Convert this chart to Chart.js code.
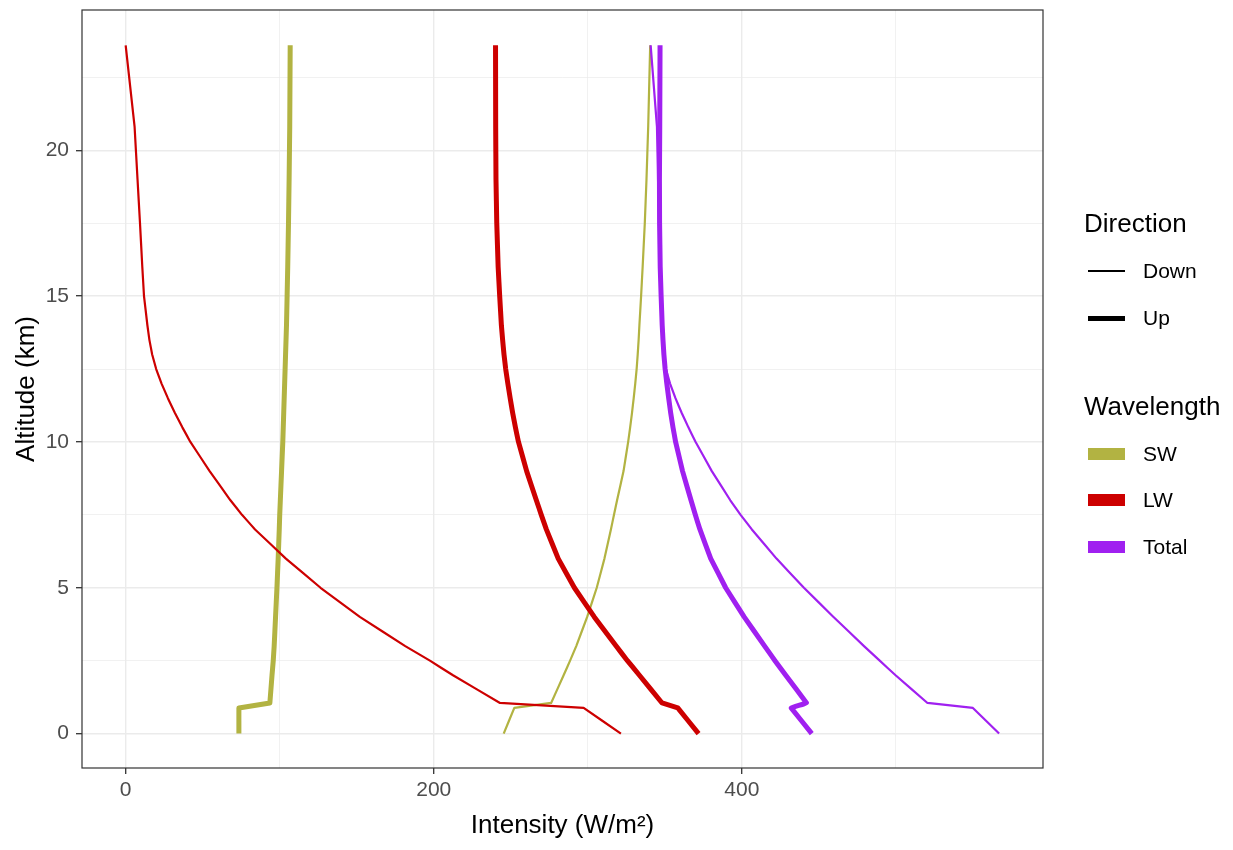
<!DOCTYPE html>
<html>
<head>
<meta charset="utf-8">
<title>Radiative flux profile</title>
<script src="https://cdn.jsdelivr.net/npm/chart.js"></script>
<style>
    body { margin: 0; background: #ffffff; font-family: "Liberation Sans", Arial, sans-serif; }
    #wrap { position: relative; width: 1233px; height: 850px; }
    #legend { position: absolute; left: 0; top: 0; }
    .leg-title { position: absolute; left: 1084px; font-size: 26px; height: 30px; line-height: 30px; color: #000; white-space: nowrap; }
    .leg-label { position: absolute; left: 1143px; font-size: 21px; height: 26px; line-height: 26px; color: #000; white-space: nowrap; }
    .leg-key { position: absolute; left: 1088px; width: 37px; }
</style>
</head>
<body>
<div id="wrap">
    <canvas id="fluxChart" width="1233" height="850"></canvas>
    <div id="legend"></div>
</div>
<script>
// altitude levels (km), shared by every profile
const altitude = [0, 0.88, 1.05, 2, 2.5, 3, 4, 5, 6, 7, 7.5, 8, 9, 10, 10.5, 11, 11.5, 12, 12.5, 13, 13.5, 14, 15, 16, 17.5, 19, 20.8, 23.6];

// intensities in W/m2
const swDown = [245.4, 252.3, 276.2, 284.3, 288.5, 292.5, 299.6, 305.8, 310.8, 315, 317, 319, 323.2, 326.2, 327.5, 328.7, 329.8, 330.8, 331.7, 332.4, 333, 333.5, 334.6, 335.6, 337, 338.1, 339.2, 340.5];
const swUp = [73.5, 73.5, 93.6, 95, 95.8, 96.4, 97.3, 98.2, 99, 99.7, 100, 100.4, 101.2, 102, 102.3, 102.6, 102.9, 103.2, 103.5, 103.8, 104.1, 104.4, 104.8, 105.2, 105.7, 106.1, 106.5, 106.8];
const lwDown = [321.5, 297.3, 243, 212.5, 197.5, 181.5, 152, 126.5, 104, 84, 75.5, 68, 54.5, 42, 36.8, 31.9, 27.4, 23.3, 19.8, 17.2, 15.4, 14.1, 11.9, 10.8, 9.3, 7.7, 5.8, 0];
const lwUp = [371.9, 358.4, 348.2, 333.5, 325.7, 318.4, 304.2, 291.3, 280.8, 273.1, 269.8, 266.6, 260.3, 255, 253, 251.2, 249.6, 248.1, 246.7, 245.6, 244.7, 243.9, 242.8, 241.8, 240.9, 240.4, 240.2, 240.1];
const totalDown = [567, 550, 520.5, 499.8, 489.5, 479.3, 459.5, 440.3, 422.5, 406.5, 399.2, 392.5, 380.5, 370, 365.3, 360.9, 356.9, 353.4, 350.7, 349.5, 348.8, 348.3, 347.4, 346.6, 346.2, 345.6, 344.9, 340.8];
const totalUp = [445.4, 432, 442, 428.5, 421.5, 414.8, 401.5, 389.5, 379.8, 372.8, 369.8, 367, 361.5, 357, 355.3, 353.8, 352.5, 351.3, 350.2, 349.4, 348.8, 348.3, 347.6, 347, 346.6, 346.5, 346.7, 346.9];

const wavelengths = ['SW', 'LW', 'Total'];
const directions = ['Down', 'Up'];

// axis ticks (minor ones carry grid lines only)
const xTicks = [0, 100, 200, 300, 400, 500];
const xLabels = [0, 200, 400];
const yTicks = [0, 2.5, 5, 7.5, 10, 12.5, 15, 17.5, 20, 22.5];
const yLabels = [0, 5, 10, 15, 20];

const colors = { SW: '#B2B342', LW: '#CD0000', Total: '#A020F0' };
const widths = { Down: 2.2, Up: 5 };

const series = {
    SW: { Down: swDown, Up: swUp },
    LW: { Down: lwDown, Up: lwUp },
    Total: { Down: totalDown, Up: totalUp }
};

function profile(values) {
    return altitude.map((a, i) => ({ x: values[i], y: a }));
}

const datasets = [];
wavelengths.forEach((w, wi) => {
    directions.forEach(d => {
        datasets.push({
            label: w + ' ' + d,
            data: profile(series[w][d]),
            showLine: true,
            borderColor: colors[w],
            backgroundColor: colors[w],
            borderWidth: widths[d],
            borderJoinStyle: 'round',
            borderCapStyle: 'butt',
            pointRadius: 0,
            pointHoverRadius: 0,
            // a tiny tension keeps Chart.js off its x-sorted fast path,
            // which would step these near-vertical profiles
            tension: 0.001,
            order: wavelengths.length - wi
        });
    });
});

// ggplot-like panel border on all four sides
const panelBorder = {
    id: 'panelBorder',
    afterDraw(chart) {
        const { ctx, chartArea: a } = chart;
        ctx.save();
        ctx.strokeStyle = '#333333';
        ctx.lineWidth = 1.2;
        ctx.strokeRect(a.left, a.top, a.right - a.left, a.bottom - a.top);
        ctx.restore();
    }
};

const tickFont = { family: '"Liberation Sans", Arial, sans-serif', size: 21 };
const titleFont = { family: '"Liberation Sans", Arial, sans-serif', size: 26 };

new Chart(document.getElementById('fluxChart'), {
    type: 'scatter',
    data: { datasets: datasets },
    plugins: [panelBorder],
    options: {
        responsive: false,
        animation: false,
        events: [],
        layout: { padding: { top: 10, right: 190, bottom: 0, left: 0 } },
        plugins: {
            legend: { display: false },
            tooltip: { enabled: false }
        },
        scales: {
            x: {
                type: 'linear',
                min: -28.35,
                max: 595.5,
                afterBuildTicks: s => { s.ticks = xTicks.map(v => ({ value: v })); },
                afterFit: s => {
                    s.height = 82;
                    s.paddingLeft = 0;
                    s.paddingRight = 0;
                },
                border: { display: false },
                grid: {
                    color: '#EBEBEB',
                    lineWidth: c => xLabels.includes(c.tick.value) ? 1.4 : 0.7,
                    tickLength: 6,
                    tickWidth: 1.3,
                    tickColor: c => xLabels.includes(c.tick.value) ? '#333333' : 'rgba(0,0,0,0)'
                },
                ticks: {
                    color: '#4D4D4D',
                    font: tickFont,
                    padding: 4,
                    maxRotation: 0,
                    autoSkip: false,
                    callback: v => xLabels.includes(v) ? String(v) : ''
                },
                title: {
                    display: true,
                    text: 'Intensity (W/m²)',
                    color: '#000000',
                    font: titleFont,
                    padding: { top: 0, bottom: 9 }
                }
            },
            y: {
                type: 'linear',
                min: -1.18,
                max: 24.81,
                afterBuildTicks: s => { s.ticks = yTicks.map(v => ({ value: v })); },
                afterFit: s => {
                    s.width = 82;
                    s.paddingTop = 0;
                    s.paddingBottom = 0;
                },
                border: { display: false },
                grid: {
                    color: '#EBEBEB',
                    lineWidth: c => yLabels.includes(c.tick.value) ? 1.4 : 0.7,
                    tickLength: 6,
                    tickWidth: 1.3,
                    tickColor: c => yLabels.includes(c.tick.value) ? '#333333' : 'rgba(0,0,0,0)'
                },
                ticks: {
                    color: '#4D4D4D',
                    font: tickFont,
                    padding: 7,
                    autoSkip: false,
                    callback: v => yLabels.includes(v) ? String(v) : ''
                },
                title: {
                    display: true,
                    text: 'Altitude (km)',
                    color: '#000000',
                    font: titleFont,
                    padding: { top: 11, bottom: 0 }
                }
            }
        }
    }
});

// HTML legend with two groups, like the ggplot guides
function buildLegend() {
    const box = document.getElementById('legend');
    const add = (cls, css, text) => {
        const el = document.createElement('div');
        el.className = cls;
        Object.assign(el.style, css);
        if (text) el.textContent = text;
        box.appendChild(el);
    };

    add('leg-title', { top: (223 - 15) + 'px' }, 'Direction');
    const dirY = [271, 318];
    directions.forEach((d, i) => {
        const h = widths[d];
        add('leg-key', { top: (dirY[i] - h / 2) + 'px', height: h + 'px', background: '#000' });
        add('leg-label', { top: (dirY[i] - 13) + 'px' }, d);
    });

    add('leg-title', { top: (406 - 15) + 'px' }, 'Wavelength');
    const wlY = [454, 500, 547];
    wavelengths.forEach((w, i) => {
        add('leg-key', { top: (wlY[i] - 6) + 'px', height: '12px', background: colors[w] });
        add('leg-label', { top: (wlY[i] - 13) + 'px' }, w);
    });
}

buildLegend();
</script>
</body>
</html>
